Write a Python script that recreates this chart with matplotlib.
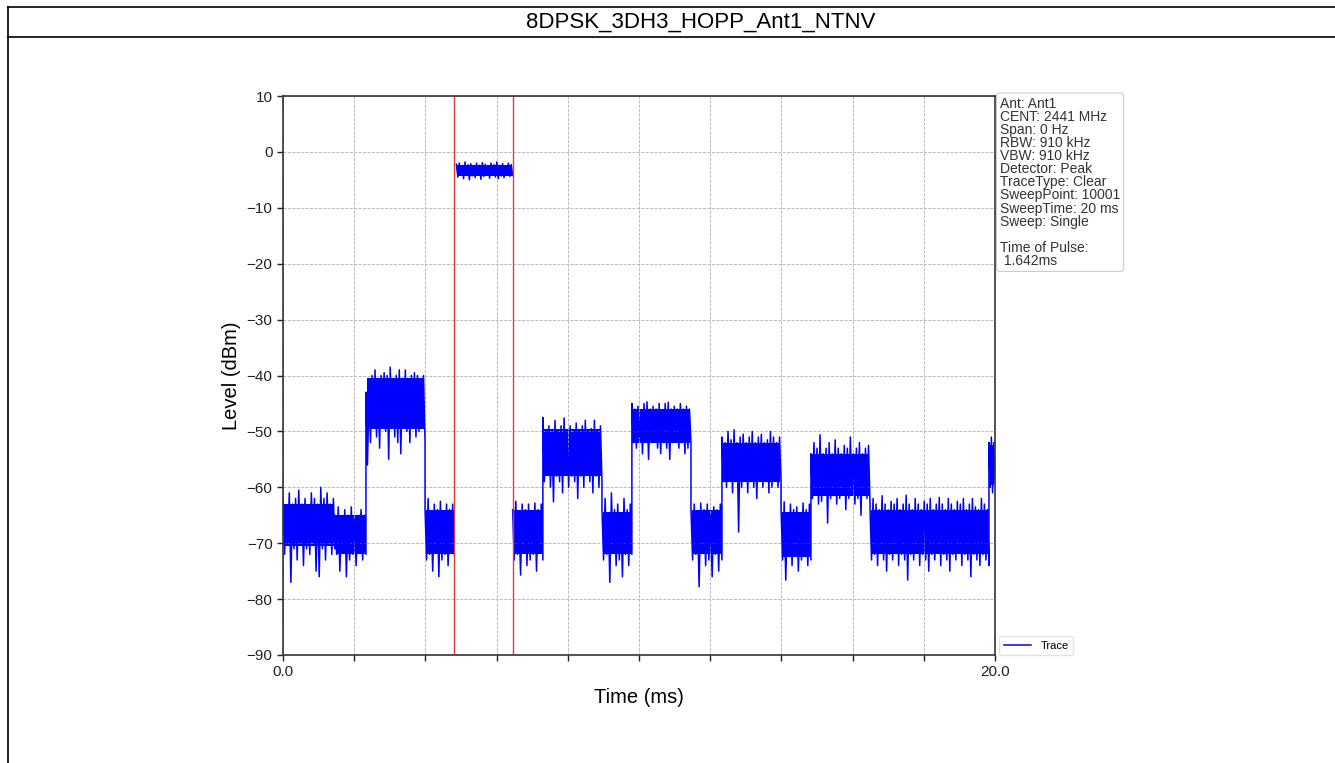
import numpy as np
import matplotlib
matplotlib.use("Agg")
import matplotlib.pyplot as plt
from matplotlib.lines import Line2D

plt.rcParams['font.family'] = ['Liberation Sans', 'DejaVu Sans']

title = "8DPSK_3DH3_HOPP_Ant1_NTNV"

# trace segments (ms): start, end, and the peak / trough levels (dBm)
seg_start = [0.0, 1.46, 2.33, 3.99, 6.45, 7.30, 8.96, 9.80, 11.46, 12.33, 13.99, 14.83, 16.49, 19.83]
seg_end = [1.46, 2.33, 3.99, 4.81, 7.30, 8.96, 9.80, 11.46, 12.33, 13.99, 14.83, 16.49, 19.83, 20.0]

# solid core of each noisy segment
seg_core_top = [-63, -65, -40.5, -64, -64, -49.5, -64.5, -46, -64, -52, -64.5, -54, -64, -52.5]
seg_core_bot = [-70.5, -72, -49.5, -72, -72, -58, -72, -52, -72, -59, -72.5, -61.5, -72, -59.5]

seg_hi = [
    [-62, -64, -61, -63, -62, -60.5, -63, -62, -64, -61, -62, -63, -60, -62, -61, -63, -62],
    [-65, -63.5, -66, -64, -65, -63.5, -66, -65, -64, -65],
    [-43, -44, -40, -39, -41, -40, -39.5, -40, -38.5, -41, -40, -39, -40.5, -39, -41, -40, -39.5, -40, -41, -40],
    [-64, -62, -65, -63, -64, -62.5, -65, -63, -64, -63],
    [-64, -62.5, -65, -63, -64, -63, -65, -62.8, -64, -63],
    [-47.5, -50, -49, -51, -48, -50, -49, -47.6, -50, -49, -51, -48.5, -50, -49, -48, -50, -49.5, -48, -50, -49],
    [-64, -62, -65, -61, -64, -63, -65, -62, -64, -63],
    [-45, -46, -45.5, -46.5, -45, -44.7, -46, -45.5, -46, -45, -46.5, -45, -44.8, -46, -45.5, -46, -45, -46, -45.5, -46],
    [-64, -63, -65, -62.8, -64, -63, -65, -63.5, -64, -63],
    [-51, -52, -50, -51.5, -49.7, -52, -51, -50.5, -52, -51, -50, -52, -51, -50.5, -52, -51.5, -50, -51, -52, -51],
    [-64, -62.6, -65, -63, -64, -63.5, -65, -62.8, -64, -63],
    [-54, -52, -53, -50.6, -54, -53, -52, -54, -51.5, -53, -54, -52.5, -53, -51, -54, -53, -52, -54, -53, -52.5],
    [-64, -62, -63, -64, -61.5, -63, -64, -62.5, -63, -62, -64, -63, -61.4, -63, -64, -62, -63, -64, -62.5, -63,
     -62, -64, -63, -61.8, -63, -64, -62, -63, -64, -62.5, -63, -62, -64, -63, -62, -63.5, -64, -62, -63, -64],
    [-52, -51, -52],
]

seg_lo = [
    [-72, -70, -77, -71, -73, -70, -74, -71, -72, -69, -75, -76, -71, -73, -70, -72, -71],
    [-72, -75, -71, -76, -73, -72, -74, -71, -73, -72],
    [-56, -52, -49, -51, -53, -48, -50, -55, -49, -51, -52, -54, -49, -50, -52, -48, -51, -50, -49, -52],
    [-73, -72, -75, -71, -76, -73, -72, -74, -71, -72],
    [-73, -72, -75.7, -71, -74, -73, -72, -75, -71, -73],
    [-59, -57, -60, -62.6, -58, -59, -61, -57, -60, -58, -59, -62, -58, -60, -57, -59, -61, -58, -60, -59],
    [-73, -72, -77, -71, -74, -73, -76, -72, -74, -72],
    [-52, -53, -51, -54, -52, -55, -52, -51, -53, -54, -52, -53, -55, -52, -51, -53, -52, -54, -53, -52],
    [-73, -72, -77.8, -71, -74, -73, -76, -72, -75, -73],
    [-59, -60, -58, -61, -59, -68, -60, -58, -61, -59, -60, -62, -58, -60, -59, -61, -60, -58, -60, -59],
    [-73, -76.6, -72, -74, -71, -75, -73, -72, -74, -73],
    [-62, -61, -63, -62.5, -61, -66.4, -62, -61.5, -63, -62, -61, -64, -62, -61, -63, -62, -65, -61, -62, -63],
    [-73, -72, -74, -71, -73, -75, -72, -73, -71, -74, -72, -73, -76.6, -72, -73, -71, -74, -72, -73, -75,
     -72, -73, -71, -74, -72, -73, -75, -72, -73, -71, -74, -72, -73, -76, -72, -73, -74, -72, -73, -74],
    [-60, -61, -59],
]

# the pulse between the markers
pulse_start = 4.81
pulse_end = 6.452
pulse_core = (-2.4, -4.4)
pulse_hi = [-2.2, -2.0, -2.5, -1.8, -2.3, -2.1, -2.6, -2.0, -2.4, -1.9, -2.2, -2.5, -2.0, -2.3, -1.8, -2.4, -2.1, -2.5, -2.0, -2.3]
pulse_lo = [-4.5, -4.0, -4.8, -4.2, -5.0, -4.3, -4.6, -4.1, -4.9, -4.4, -4.2, -4.7, -4.0, -4.5, -4.8, -4.3, -4.6, -4.1, -4.4, -4.2]

info_lines = ["Ant: Ant1", "CENT: 2441 MHz", "Span: 0 Hz", "RBW: 910 kHz", "VBW: 910 kHz",
              "Detector: Peak", "TraceType: Clear", "SweepPoint: 10001", "SweepTime: 20 ms",
              "Sweep: Single", "", "Time of Pulse:", " 1.642ms"]

TRACE = '#0000ff'


def zigzag(t0, t1, hi, lo):
    # peaks and troughs alternate along the segment
    t = np.linspace(t0, t1, 2 * len(hi))
    y = np.empty(2 * len(hi))
    y[0::2] = hi
    y[1::2] = lo
    return t, y


fig = plt.figure(figsize=(13.35, 7.63), dpi=100)
ax = fig.add_axes([283 / 1335, 1 - 655 / 763, 712 / 1335, 559 / 763])

# main trace (gap where the pulse is)
t_parts, y_parts = [], []
for i in range(len(seg_start)):
    t, y = zigzag(seg_start[i], seg_end[i], seg_hi[i], seg_lo[i])
    t_parts.append(t)
    y_parts.append(y)
    if seg_end[i] == pulse_start:
        t_parts.append([np.nan])
        y_parts.append([np.nan])
    ax.fill_between([seg_start[i] + 0.02, seg_end[i] - 0.02], seg_core_bot[i], seg_core_top[i],
                    color=TRACE, lw=0)
t_all = np.concatenate(t_parts)
y_all = np.concatenate(y_parts)
ax.plot(t_all, y_all, color=TRACE, lw=1.1, label='Trace')

tp, yp = zigzag(pulse_start + 0.06, pulse_end, pulse_hi, pulse_lo)
ax.plot(tp, yp, color=TRACE, lw=1.1)
ax.fill_between([pulse_start + 0.08, pulse_end - 0.02], pulse_core[1], pulse_core[0], color=TRACE, lw=0)

ax.axvline(pulse_start, color='#e03a3a', lw=1.0)
ax.axvline(pulse_end, color='#e03a3a', lw=1.0)

ax.set_xlim(0, 20)
ax.set_ylim(-90, 10)
ax.set_xticks(np.arange(0, 21, 2))
ax.set_xticklabels(['0.0'] + [''] * 9 + ['20.0'])
ax.set_yticks(np.arange(-90, 11, 10))
ax.tick_params(labelsize=11, length=4, width=1, colors='#222222')
ax.grid(True, ls='--', lw=0.6, color='#b0b0b0')
for s in ax.spines.values():
    s.set_linewidth(1.2)
    s.set_color('#333333')

ax.set_xlabel('Time (ms)', fontsize=14.5, labelpad=6)
ax.set_ylabel('Level (dBm)', fontsize=14.5, labelpad=4)

ax.text(1.007, 0.999, "\n".join(info_lines), transform=ax.transAxes, ha='left', va='top',
        fontsize=10, color='#333333', linespacing=0.92,
        bbox=dict(boxstyle='round,pad=0.25', fc='white', ec='#cccccc', lw=0.8))

ax.legend(loc='lower left', bbox_to_anchor=(1.006, 0.0), borderaxespad=0, fontsize=8, frameon=True,
          edgecolor='#dddddd', handlelength=2.5)

# title band with frame
fig.text(701 / 1335, 1 - 22 / 763, title, ha='center', va='center', fontsize=16)
fig.add_artist(Line2D([8 / 1335, 1.0], [1 - 7 / 763, 1 - 7 / 763], color='black', lw=1.2, transform=fig.transFigure))
fig.add_artist(Line2D([8 / 1335, 1.0], [1 - 37 / 763, 1 - 37 / 763], color='black', lw=1.2, transform=fig.transFigure))
fig.add_artist(Line2D([8 / 1335, 8 / 1335], [0, 1 - 7 / 763], color='black', lw=1.2, transform=fig.transFigure))

fig.savefig('out.png', dpi=100)
